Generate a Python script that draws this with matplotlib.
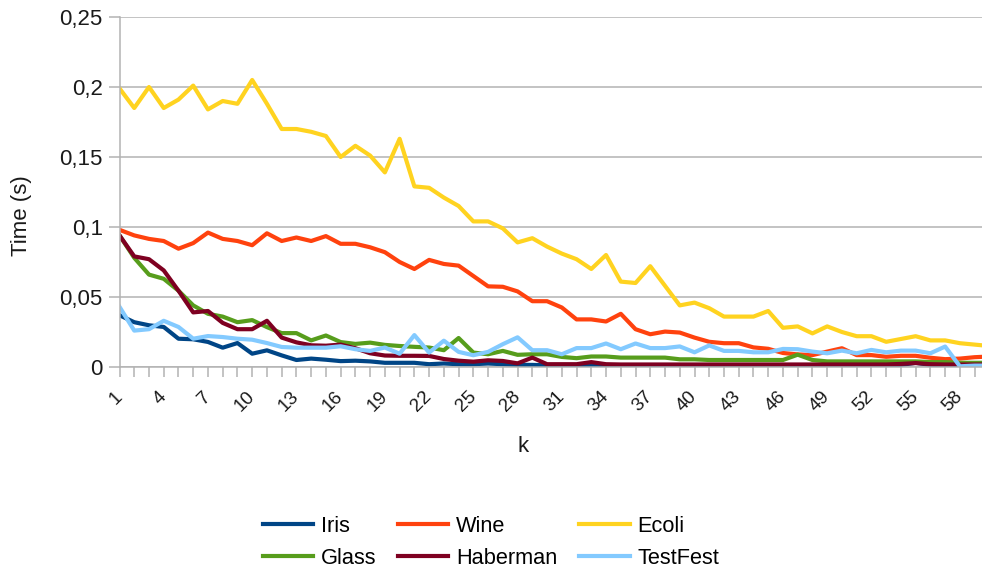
import matplotlib
matplotlib.use("Agg")
import matplotlib.pyplot as plt
from matplotlib.ticker import FuncFormatter

plt.rcParams['font.family'] = ['Liberation Sans', 'DejaVu Sans']

# run time per k for each data set
k = list(range(1, 61))

iris = [0.037, 0.032, 0.0298, 0.0286, 0.0202, 0.0198, 0.0179, 0.0138, 0.0171, 0.0095,
        0.0119, 0.0083, 0.005, 0.006, 0.0052, 0.0042, 0.0045, 0.004, 0.003, 0.003,
        0.003, 0.002, 0.0025, 0.002, 0.002, 0.0025, 0.002, 0.0015, 0.0015, 0.0012,
        0.0012, 0.0012, 0.0015, 0.0012, 0.001, 0.001, 0.001, 0.001, 0.001, 0.001,
        0.001, 0.001, 0.001, 0.001, 0.001, 0.001, 0.001, 0.001, 0.001, 0.001,
        0.001, 0.001, 0.001, 0.0015, 0.003, 0.0015, 0.001, 0.001, 0.001, 0.001]

wine = [0.098, 0.094, 0.0915, 0.09, 0.0845, 0.0885, 0.096, 0.0915, 0.09, 0.087,
        0.0955, 0.09, 0.0925, 0.09, 0.0935, 0.088, 0.088, 0.0855, 0.082, 0.075,
        0.07, 0.0765, 0.0736, 0.0724, 0.065, 0.0576, 0.0573, 0.054, 0.047, 0.047,
        0.0425, 0.034, 0.034, 0.0325, 0.038, 0.027, 0.0234, 0.0253, 0.0246, 0.021,
        0.018, 0.017, 0.017, 0.014, 0.013, 0.01, 0.009, 0.0085, 0.011, 0.0134,
        0.0085, 0.0085, 0.0073, 0.008, 0.008, 0.0066, 0.0056, 0.006, 0.007, 0.0075]

ecoli = [0.199, 0.185, 0.2, 0.185, 0.191, 0.201, 0.184, 0.19, 0.188, 0.205,
         0.188, 0.17, 0.17, 0.168, 0.165, 0.15, 0.158, 0.151, 0.139, 0.163,
         0.129, 0.128, 0.121, 0.115, 0.104, 0.104, 0.099, 0.089, 0.092, 0.086,
         0.081, 0.077, 0.07, 0.08, 0.061, 0.06, 0.072, 0.058, 0.044, 0.046,
         0.042, 0.036, 0.036, 0.036, 0.04, 0.028, 0.029, 0.024, 0.029, 0.025,
         0.022, 0.022, 0.018, 0.02, 0.022, 0.019, 0.019, 0.017, 0.016, 0.015]

glass = [0.094, 0.078, 0.066, 0.063, 0.0545, 0.044, 0.038, 0.036, 0.032, 0.0335,
         0.0285, 0.0242, 0.0242, 0.019, 0.0225, 0.0178, 0.0165, 0.0174, 0.0158, 0.015,
         0.0144, 0.0139, 0.012, 0.0207, 0.0103, 0.0091, 0.0115, 0.0087, 0.0091, 0.0091,
         0.0072, 0.0063, 0.0075, 0.0075, 0.0067, 0.0067, 0.0067, 0.0067, 0.0055, 0.0055,
         0.005, 0.005, 0.005, 0.005, 0.005, 0.005, 0.0088, 0.005, 0.004, 0.004,
         0.004, 0.004, 0.004, 0.004, 0.004, 0.0035, 0.0035, 0.003, 0.003, 0.003]

haberman = [0.094, 0.079, 0.077, 0.069, 0.0545, 0.039, 0.04, 0.0315, 0.027, 0.027,
            0.033, 0.021, 0.0176, 0.0155, 0.0152, 0.016, 0.0134, 0.0098, 0.0082, 0.008,
            0.008, 0.0079, 0.0057, 0.0045, 0.0038, 0.0048, 0.0043, 0.0026, 0.0067, 0.002,
            0.002, 0.002, 0.0035, 0.002, 0.0018, 0.0018, 0.0018, 0.0018, 0.0018, 0.0018,
            0.0018, 0.0018, 0.0018, 0.0018, 0.0018, 0.0018, 0.0018, 0.0018, 0.0018, 0.0018,
            0.0018, 0.0018, 0.0018, 0.0022, 0.0028, 0.002, 0.0018, 0.0018, 0.0018, 0.0018]

testfest = [0.043, 0.026, 0.027, 0.033, 0.0286, 0.0202, 0.0221, 0.0214, 0.0202, 0.0195,
            0.0171, 0.0143, 0.0138, 0.0138, 0.0138, 0.0148, 0.0127, 0.0115, 0.0139, 0.0095,
            0.0228, 0.0103, 0.0188, 0.0108, 0.0084, 0.0108, 0.0163, 0.0212, 0.012, 0.012,
            0.0091, 0.0135, 0.0135, 0.0168, 0.0127, 0.0168, 0.0135, 0.0135, 0.0147, 0.0105,
            0.0154, 0.0115, 0.0115, 0.0105, 0.0105, 0.0129, 0.0127, 0.011, 0.0098, 0.0117,
            0.0098, 0.0122, 0.0105, 0.0117, 0.0117, 0.0098, 0.0146, 0.0005, 0.001, 0.001]

names = ['Iris', 'Wine', 'Ecoli', 'Glass', 'Haberman', 'TestFest']
series = [iris, wine, ecoli, glass, haberman, testfest]
colors = ['#004586', '#ff420e', '#ffd320', '#579d1c', '#7e0021', '#83caff']

fig = plt.figure(figsize=(9.82, 5.71), dpi=100)
ax = fig.add_axes([119.5 / 982, 1 - 367 / 571, 1 - 119.5 / 982, 350 / 571])

lines = {}
for name, vals, c in zip(names, series, colors):
    ln, = ax.plot(k, vals, color=c, lw=3.0, label=name, solid_joinstyle='round')
    lines[name] = ln

ax.set_xlim(1, 59.5)
ax.set_ylim(0, 0.25)
ax.set_yticks([0, 0.05, 0.1, 0.15, 0.2, 0.25])
ax.yaxis.set_major_formatter(FuncFormatter(lambda v, p: ('%g' % round(v, 3)).replace('.', ',')))
ax.set_xticks(k[:59])
# slanted labels anchored at their right end, like the original
ax.set_xticklabels([str(i) if (i - 1) % 3 == 0 else '' for i in k[:59]],
                   rotation=45, ha='right', va='center', rotation_mode='anchor', fontsize=13.6)

gray = '#b3b3b3'
ax.grid(axis='y', color=gray, lw=1.1)
ax.set_axisbelow(True)
for s in ['top', 'right']:
    ax.spines[s].set_visible(False)
ax.spines['left'].set_color(gray)
ax.spines['bottom'].set_color(gray)
ax.spines['left'].set_linewidth(1.1)
ax.spines['bottom'].set_linewidth(1.1)
ax.tick_params(axis='y', colors=gray, labelcolor='#1a1a1a', labelsize=16, length=8, width=1.1, pad=4)
ax.tick_params(axis='x', colors=gray, labelcolor='#1a1a1a', length=7.5, width=1.1, pad=12)

fig.text(523 / 982, 1 - 447 / 571, 'k', fontsize=16, ha='center', va='center', color='#1a1a1a')
fig.text(22 / 982, 1 - 216 / 571, 'Time (s)', fontsize=16, rotation=90, ha='center', va='center', color='#1a1a1a')

# legend fills column-wise, so reorder to get Iris/Wine/Ecoli on the first row
order = ['Iris', 'Glass', 'Wine', 'Haberman', 'Ecoli', 'TestFest']
fig.legend([lines[n] for n in order], order, loc='center', bbox_to_anchor=(0.5, 1 - 542.5 / 571),
           ncol=3, frameon=False, fontsize=15.7, handlelength=2.3, handletextpad=0.37,
           columnspacing=1.0, labelspacing=0.5, borderpad=0)

fig.savefig('out.png', dpi=100)
